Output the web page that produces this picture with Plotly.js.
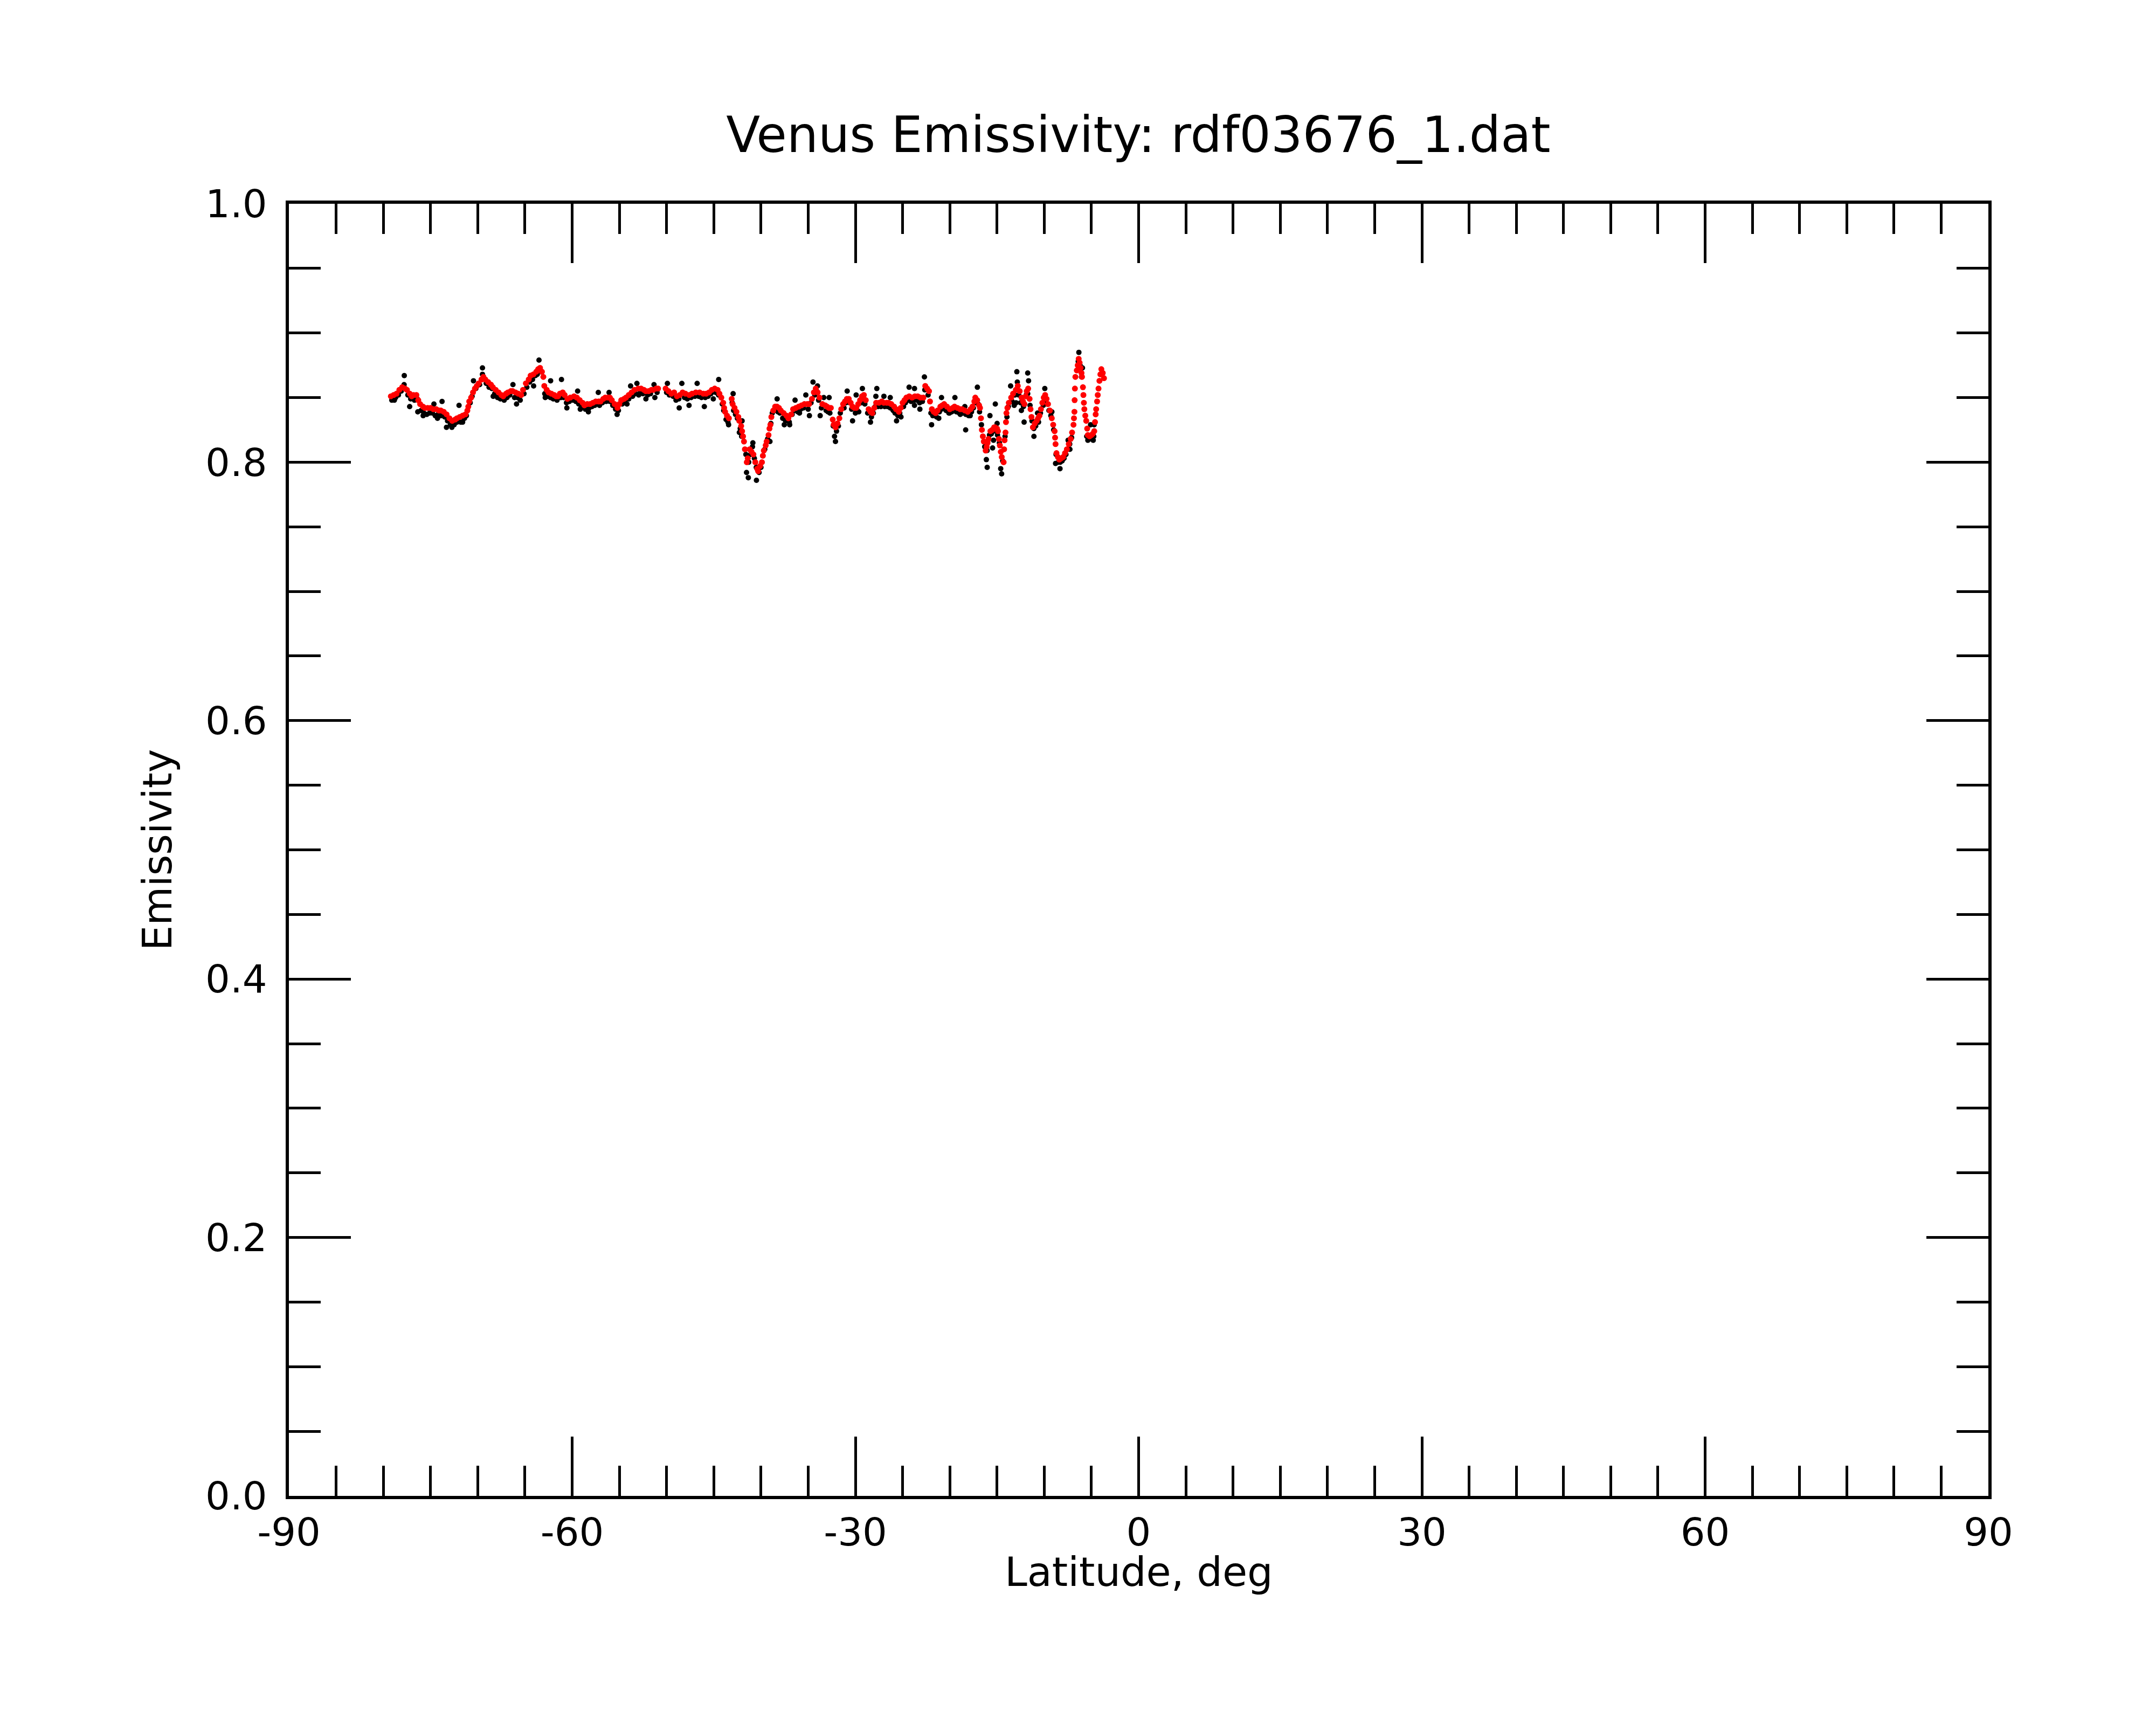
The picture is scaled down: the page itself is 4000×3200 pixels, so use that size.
<!DOCTYPE html>
<html>
<head>
<meta charset="utf-8">
<title>Venus Emissivity</title>
<script src="https://cdn.plot.ly/plotly-3.0.1.min.js"></script>
<style>
  html, body { margin: 0; padding: 0; background: #fff; }
  #chart { width: 4000px; height: 3200px; }
</style>
</head>
<body>
<div id="chart"></div>
<script>
/* -------------------- Data -------------------- */

// smoothed emissivity (red)
const latSmooth = [
  -79.2, -78.9, -78.6, -78.3, -78.0, -77.7, -77.5, -77.2, -77.0, -76.8,
  -76.5, -76.3, -76.1, -75.8, -75.6, -75.3, -75.0, -74.7, -74.4, -74.1,
  -73.9, -73.6, -73.3, -73.0, -72.7, -72.4, -72.2, -71.9, -71.6, -71.3,
  -71.1, -71.0, -70.9, -70.7, -70.5, -70.3, -70.1, -69.9, -69.6, -69.4,
  -69.2, -68.9, -68.6, -68.4, -68.1, -67.8, -67.5, -67.3, -67.0, -66.8,
  -66.5, -66.3, -66.0, -65.7, -65.4, -65.2, -64.9, -64.6, -64.4, -64.1,
  -63.8, -63.6, -63.4, -63.2, -63.05, -62.95, -62.7, -62.5, -62.2, -61.9,
  -61.7, -61.5, -61.3, -61.0, -60.8, -60.5, -60.2, -59.8, -59.5, -59.2,
  -58.9, -58.7, -58.4, -58.1, -57.8, -57.5, -57.2, -57.0, -56.7, -56.5,
  -56.2, -56.0, -55.8, -55.5, -55.2, -55.0, -54.8, -54.5, -54.3, -54.0,
  -53.7, -53.4, -53.0, -52.7, -52.4, -52.2, -51.9, -51.6, -51.4, -51.1,
  -50.9, -50.1, -49.8, -49.5, -49.2, -48.9, -48.6, -48.3, -48.0, -47.6,
  -47.3, -46.9, -46.5, -46.1, -45.8, -45.5, -45.2, -44.9, -44.6, -44.4,
  -44.2, -44.0, -43.9, -43.8, -43.6, -43.4, -43.1, -43.0, -42.8, -42.6,
  -42.4, -42.3, -42.1, -42.0, -41.9, -41.8, -41.7, -41.5, -41.4, -41.2,
  -41.0, -40.8, -40.6, -40.4, -40.3, -40.1, -39.9, -39.8, -39.7, -39.5,
  -39.4, -39.2, -39.1, -39.0, -38.9, -38.7, -38.5, -38.3, -38.1, -37.9,
  -37.6, -37.3, -37.1, -36.8, -36.6, -36.3, -36.0, -35.7, -35.4, -35.1,
  -34.9, -34.6, -34.4, -34.2, -34.0, -33.8, -33.5, -33.2, -33.0, -32.8,
  -32.6, -32.4, -32.3, -32.1, -31.9, -31.7, -31.5, -31.3, -31.1, -30.9,
  -30.7, -30.5, -30.3, -30.1, -29.9, -29.7, -29.5, -29.3, -29.1, -28.9,
  -28.6, -28.4, -28.2, -28.0, -27.8, -27.5, -27.2, -27.0, -26.7, -26.5,
  -26.2, -25.9, -25.7, -25.4, -25.2, -25.0, -24.8, -24.6, -24.3, -24.0,
  -23.7, -23.4, -23.1, -22.8, -22.6, -22.4, -22.2, -22.1, -21.9, -21.7,
  -21.5, -21.3, -21.0, -20.8, -20.6, -20.3, -20.0, -19.7, -19.5, -19.2,
  -18.9, -18.7, -18.4, -18.1, -17.8, -17.6, -17.4, -17.3, -17.1, -16.9,
  -16.8, -16.7, -16.6, -16.5, -16.4, -16.2, -16.1, -16.0, -15.9, -15.7,
  -15.5, -15.3, -15.2, -15.0, -14.9, -14.8, -14.7, -14.6, -14.5, -14.3,
  -14.25, -14.2, -14.1, -14.05, -14.0, -13.9, -13.75, -13.5, -13.3, -13.0,
  -12.8, -12.6, -12.4, -12.25, -12.1, -11.95, -11.85, -11.7, -11.55, -11.45,
  -11.35, -11.2, -11.0, -10.8, -10.65, -10.5, -10.35, -10.2, -10.05, -9.9,
  -9.75, -9.6, -9.4, -9.2, -9.05, -8.9, -8.85, -8.8, -8.7, -8.55,
  -8.4, -8.2, -8.0, -7.8, -7.6, -7.4, -7.2, -7.05, -6.9, -6.85,
  -6.8, -6.78, -6.75, -6.7, -6.55, -6.45, -6.35, -6.25, -6.15, -6.05,
  -6.0, -5.9, -5.85, -5.8, -5.75, -5.65, -5.55, -5.45, -5.38, -5.2,
  -5.0, -4.85, -4.7, -4.62, -4.55, -4.5, -4.4, -4.33, -4.25, -4.15,
  -4.05, -3.95, -3.8, -3.67
];
const emisSmooth = [
  0.851, 0.852, 0.853, 0.856, 0.858, 0.857, 0.856, 0.853, 0.851, 0.852,
  0.852, 0.848, 0.845, 0.843, 0.842, 0.842, 0.842, 0.841, 0.841, 0.840,
  0.840, 0.839, 0.837, 0.834, 0.832, 0.833, 0.834, 0.835, 0.836, 0.837,
  0.840, 0.843, 0.847, 0.850, 0.854, 0.857, 0.859, 0.861, 0.864, 0.866,
  0.864, 0.862, 0.860, 0.858, 0.856, 0.854, 0.852, 0.851, 0.853, 0.854,
  0.855, 0.855, 0.854, 0.853, 0.852, 0.856, 0.861, 0.864, 0.867, 0.868,
  0.870, 0.872, 0.873, 0.870, 0.866, 0.859, 0.856, 0.854, 0.853, 0.852,
  0.851, 0.851, 0.853, 0.854, 0.852, 0.849, 0.850, 0.851, 0.850, 0.848,
  0.846, 0.844, 0.845, 0.845, 0.846, 0.847, 0.847, 0.847, 0.849, 0.850,
  0.850, 0.850, 0.848, 0.845, 0.842, 0.845, 0.848, 0.849, 0.850, 0.852,
  0.854, 0.856, 0.857, 0.857, 0.856, 0.855, 0.855, 0.856, 0.856, 0.857,
  0.857, 0.857, 0.855, 0.853, 0.854, 0.851, 0.852, 0.854, 0.853, 0.852,
  0.853, 0.854, 0.854, 0.853, 0.853, 0.854, 0.856, 0.857, 0.856, 0.853,
  0.850, 0.846, 0.842, 0.839, 0.836, 0.834, 0.849, 0.845, 0.842, 0.839,
  0.835, 0.832, 0.828, 0.824, 0.820, 0.816, 0.810, 0.800, 0.803, 0.810,
  0.808, 0.806, 0.800, 0.795, 0.793, 0.797, 0.800, 0.805, 0.809, 0.813,
  0.816, 0.821, 0.826, 0.829, 0.835, 0.840, 0.843, 0.843, 0.842, 0.840,
  0.838, 0.836, 0.834, 0.837, 0.841, 0.842, 0.843, 0.844, 0.845, 0.845,
  0.845, 0.849, 0.854, 0.857, 0.854, 0.850, 0.845, 0.844, 0.843, 0.842,
  0.842, 0.833, 0.829, 0.827, 0.830, 0.834, 0.841, 0.845, 0.847, 0.849,
  0.849, 0.846, 0.843, 0.842, 0.842, 0.845, 0.848, 0.851, 0.852, 0.848,
  0.841, 0.839, 0.838, 0.842, 0.846, 0.846, 0.847, 0.846, 0.846, 0.846,
  0.845, 0.843, 0.841, 0.839, 0.842, 0.846, 0.848, 0.850, 0.851, 0.850,
  0.851, 0.851, 0.850, 0.850, 0.859, 0.857, 0.855, 0.847, 0.841, 0.839,
  0.838, 0.840, 0.843, 0.844, 0.845, 0.843, 0.841, 0.842, 0.843, 0.842,
  0.841, 0.841, 0.840, 0.839, 0.841, 0.843, 0.847, 0.850, 0.848, 0.844,
  0.842, 0.834, 0.825, 0.820, 0.816, 0.809, 0.812, 0.815, 0.818, 0.824,
  0.825, 0.827, 0.827, 0.826, 0.824, 0.818, 0.813, 0.808, 0.804, 0.800,
  0.810, 0.817, 0.823, 0.831, 0.838, 0.842, 0.846, 0.850, 0.853, 0.856,
  0.859, 0.855, 0.850, 0.847, 0.845, 0.851, 0.855, 0.857, 0.849, 0.841,
  0.835, 0.827, 0.830, 0.832, 0.834, 0.836, 0.841, 0.846, 0.850, 0.852,
  0.849, 0.845, 0.840, 0.834, 0.829, 0.824, 0.819, 0.814, 0.807, 0.804,
  0.802, 0.803, 0.804, 0.807, 0.810, 0.814, 0.818, 0.823, 0.829, 0.834,
  0.839, 0.848, 0.857, 0.866, 0.871, 0.875, 0.880, 0.877, 0.873, 0.869,
  0.866, 0.858, 0.852, 0.846, 0.841, 0.836, 0.832, 0.826, 0.821, 0.820,
  0.821, 0.822, 0.824, 0.831, 0.837, 0.841, 0.847, 0.852, 0.857, 0.863,
  0.868, 0.872, 0.869, 0.865
];

// raw emissivity samples (black)
const latRaw = [
  -79.1, -78.7, -78.4, -78.1, -77.8, -77.4, -77.1, -76.7, -76.4, -76.0,
  -75.7, -75.4, -75.1, -74.8, -74.5, -74.2, -73.9, -73.5, -73.2, -72.9,
  -72.5, -72.2, -71.8, -71.4, -71.2, -70.8, -70.6, -70.2, -69.8, -69.5,
  -69.1, -68.8, -68.5, -68.2, -67.9, -67.6, -67.2, -66.9, -66.6, -66.1,
  -65.8, -65.5, -65.1, -64.8, -64.5, -64.2, -63.9, -63.7, -63.3, -62.9,
  -62.6, -62.3, -62.0, -61.6, -61.2, -60.9, -60.6, -60.3, -59.9, -59.6,
  -59.3, -59.0, -58.6, -58.2, -57.9, -57.6, -57.1, -56.8, -56.4, -56.0,
  -55.7, -55.4, -55.1, -54.7, -54.4, -54.0, -53.6, -53.3, -52.8, -52.5,
  -52.0, -51.7, -51.0, -50.0, -49.7, -49.3, -49.0, -48.7, -48.1, -47.8,
  -47.4, -47.0, -46.6, -46.3, -45.9, -45.6, -45.3, -44.8, -44.5, -44.1,
  -43.95, -43.7, -43.5, -43.05, -42.9, -42.7, -42.5, -42.2, -42.05, -41.6,
  -41.3, -41.1, -40.9, -40.7, -40.5, -40.2, -40.0, -39.6, -39.3, -38.95,
  -38.8, -38.6, -38.2, -38.0, -37.7, -37.4, -37.0, -36.7, -36.4, -36.1,
  -35.8, -35.5, -35.0, -34.7, -34.3, -34.1, -33.9, -33.6, -33.1, -32.9,
  -32.7, -32.35, -32.0, -31.8, -31.6, -31.2, -31.0, -30.6, -30.4, -30.0,
  -29.8, -29.4, -29.2, -29.0, -28.7, -28.3, -28.1, -27.9, -27.6, -27.3,
  -26.9, -26.6, -26.3, -26.0, -25.8, -25.5, -25.3, -24.9, -24.7, -24.4,
  -24.1, -23.8, -23.5, -23.2, -22.9, -22.65, -22.3, -22.0, -21.8, -21.4,
  -21.1, -20.9, -20.7, -20.4, -20.1, -19.8, -19.6, -19.3, -19.0, -18.6,
  -18.3, -18.0, -17.7, -17.5, -17.2, -17.0, -16.85, -16.65, -16.3, -16.05,
  -15.8, -15.6, -15.4, -15.1, -14.95, -14.75, -14.4, -14.15, -13.95, -13.8,
  -13.4, -13.1, -12.85, -12.7, -12.5, -12.2, -11.9, -11.75, -11.5, -11.3,
  -11.1, -10.9, -10.6, -10.4, -10.1, -9.95, -9.7, -9.5, -9.3, -9.0,
  -8.75, -8.5, -8.3, -8.1, -7.9, -7.7, -7.5, -7.3, -7.1, -6.4,
  -6.2, -6.05, -5.5, -5.3, -5.1, -4.9, -4.75,
  // scattered samples away from the band
  -77.78, -71.98, -73.78, -73.31, -72.74, -71.6, -75.78, -74.26, -77.21, -78.83,
  -69.5, -68.36, -65.89, -66.27, -70.45, -74.64, -76.35,
  -63.51, -61.13, -62.28, -64.08, -62.85, -60.56, -59.42, -59.14, -58.28, -57.23,
  -56.09, -55.24, -54.19, -53.81, -53.14, -52.19, -51.33, -51.24, -49.91, -52.95,
  -48.66, -48.38, -47.62, -46.76, -46.0, -44.48, -45.05, -43.43, -42.95, -42.29,
  -42.0, -40.86, -41.53, -41.34, -40.48, -39.05, -38.29, -37.53, -36.96, -36.39,
  -35.92, -35.25, -34.87, -34.49,
  -34.01, -33.73, -33.35, -32.78, -32.21, -32.11, -30.87, -30.30, -29.92, -29.26,
  -29.64, -28.40, -27.73, -27.83, -26.98, -26.31, -25.64, -25.17, -24.31, -23.74,
  -23.17, -23.74, -22.69, -21.93, -21.17, -20.88, -19.46, -20.03, -18.89,
  -18.32, -18.41, -17.84, -17.08, -16.04, -16.13, -15.75, -15.18, -15.37, -15.47,
  -14.61, -14.51, -14.99, -13.56, -12.99, -12.90, -13.18, -12.13, -12.42, -11.75,
  -11.66, -11.09, -10.71, -9.94, -9.19, -8.33, -8.80, -7.28, -7.47, -6.33,
  -5.95, -5.09, -5.38, -4.81, -4.71
];
const emisRaw = [
  0.848, 0.850, 0.852, 0.855, 0.860, 0.852, 0.849, 0.848, 0.849, 0.840,
  0.838, 0.837, 0.838, 0.838, 0.836, 0.837, 0.836, 0.835, 0.832, 0.829,
  0.829, 0.831, 0.831, 0.834, 0.836, 0.846, 0.851, 0.857, 0.860, 0.868,
  0.861, 0.858, 0.857, 0.853, 0.850, 0.849, 0.848, 0.850, 0.852, 0.850,
  0.850, 0.848, 0.853, 0.858, 0.862, 0.864, 0.867, 0.868, 0.870, 0.853,
  0.851, 0.850, 0.849, 0.848, 0.850, 0.850, 0.846, 0.847, 0.848, 0.847,
  0.845, 0.843, 0.841, 0.842, 0.843, 0.844, 0.844, 0.846, 0.847, 0.847,
  0.844, 0.841, 0.840, 0.845, 0.847, 0.849, 0.851, 0.853, 0.854, 0.853,
  0.852, 0.853, 0.854, 0.854, 0.852, 0.851, 0.848, 0.849, 0.850, 0.849,
  0.850, 0.851, 0.851, 0.850, 0.850, 0.851, 0.853, 0.854, 0.852, 0.845,
  0.840, 0.833, 0.831, 0.846, 0.840, 0.837, 0.834, 0.826, 0.820, 0.806,
  0.800, 0.806, 0.812, 0.803, 0.796, 0.792, 0.796, 0.810, 0.818, 0.830,
  0.838, 0.840, 0.839, 0.838, 0.834, 0.832, 0.831, 0.837, 0.840, 0.839,
  0.841, 0.842, 0.841, 0.846, 0.852, 0.855, 0.848, 0.842, 0.840, 0.839,
  0.838, 0.828, 0.824, 0.828, 0.838, 0.842, 0.846, 0.846, 0.841, 0.838,
  0.840, 0.846, 0.849, 0.845, 0.838, 0.835, 0.838, 0.843, 0.843, 0.843,
  0.843, 0.843, 0.842, 0.840, 0.838, 0.836, 0.838, 0.843, 0.846, 0.848,
  0.847, 0.848, 0.848, 0.846, 0.847, 0.856, 0.852, 0.838, 0.836, 0.835,
  0.839, 0.841, 0.842, 0.840, 0.838, 0.839, 0.840, 0.839, 0.838, 0.838,
  0.837, 0.836, 0.839, 0.842, 0.846, 0.845, 0.839, 0.829, 0.812, 0.809,
  0.821, 0.822, 0.824, 0.824, 0.821, 0.815, 0.801, 0.820, 0.835, 0.843,
  0.847, 0.852, 0.862, 0.852, 0.846, 0.843, 0.852, 0.853, 0.844, 0.832,
  0.826, 0.828, 0.831, 0.838, 0.844, 0.848, 0.845, 0.840, 0.836, 0.825,
  0.806, 0.800, 0.800, 0.801, 0.803, 0.806, 0.810, 0.814, 0.819, 0.878,
  0.875, 0.866, 0.820, 0.818, 0.818, 0.818, 0.820,
  // scattered samples away from the band
  0.867, 0.844, 0.847, 0.827, 0.827, 0.831, 0.836, 0.834, 0.843, 0.848,
  0.873, 0.851, 0.845, 0.860, 0.863, 0.845, 0.839,
  0.879, 0.864, 0.863, 0.859, 0.850, 0.842, 0.855, 0.841, 0.839, 0.854,
  0.854, 0.837, 0.845, 0.859, 0.861, 0.849, 0.860, 0.850, 0.861, 0.852,
  0.842, 0.861, 0.844, 0.861, 0.843, 0.864, 0.849, 0.829, 0.853, 0.823,
  0.832, 0.815, 0.792, 0.788, 0.786, 0.816, 0.849, 0.829, 0.829, 0.848,
  0.838, 0.852, 0.836, 0.862,
  0.859, 0.836, 0.850, 0.850, 0.820, 0.816, 0.855, 0.832, 0.852, 0.857,
  0.839, 0.831, 0.857, 0.851, 0.851, 0.850, 0.832, 0.835, 0.858, 0.857,
  0.841, 0.844, 0.866, 0.829, 0.834, 0.850, 0.850, 0.838, 0.837,
  0.825, 0.843, 0.836, 0.858, 0.796, 0.802, 0.836, 0.845, 0.817, 0.811,
  0.795, 0.791, 0.830, 0.859, 0.846, 0.870, 0.844, 0.831, 0.840, 0.869,
  0.863, 0.820, 0.838, 0.857, 0.839, 0.795, 0.799, 0.810, 0.817, 0.885,
  0.873, 0.829, 0.817, 0.817, 0.829
];

// axis ticks, hyphen minus as in the original
const xTickVals = [-90, -60, -30, 0, 30, 60, 90];
const xTickText = ["-90", "-60", "-30", "0", "30", "60", "90"];
const yTickVals = [0, 0.2, 0.4, 0.6, 0.8, 1.0];
const yTickText = ["0.0", "0.2", "0.4", "0.6", "0.8", "1.0"];

/* -------------------- Plot -------------------- */

const FONT = "DejaVu Sans, Liberation Sans, sans-serif";

const traces = [
  {
    x: latRaw,
    y: emisRaw,
    type: "scatter",
    mode: "markers",
    marker: { color: "#000000", size: 10 },
    hoverinfo: "skip",
  },
  {
    x: latSmooth,
    y: emisSmooth,
    type: "scatter",
    mode: "markers",
    marker: { color: "#ff0000", size: 11 },
    hoverinfo: "skip",
  },
];

const axisCommon = {
  showgrid: false,
  zeroline: false,
  showline: true,
  linecolor: "#000",
  linewidth: 6,
  mirror: "ticks",
  ticks: "inside",
  tickcolor: "#000",
  tickwidth: 5,
  tickmode: "array",
  tickfont: { family: FONT, size: 72, color: "#000" },
  automargin: false,
};

const layout = {
  width: 4000,
  height: 3200,
  margin: { l: 536, r: 311, t: 378, b: 425 },
  paper_bgcolor: "#fff",
  plot_bgcolor: "#fff",
  showlegend: false,
  font: { family: FONT, color: "#000" },
  title: {
    text: "Venus Emissivity: rdf03676_1.dat",
    font: { family: FONT, size: 92, color: "#000" },
    x: 0.528,
    xanchor: "center",
    y: 0.922,
    yanchor: "middle",
    yref: "container",
  },
  xaxis: Object.assign({}, axisCommon, {
    range: [-90, 90],
    tickvals: xTickVals,
    ticktext: xTickText,
    ticklen: 110,
    minor: { tickmode: "linear", tick0: -90, dtick: 5, ticks: "inside", ticklen: 56, tickwidth: 5, tickcolor: "#000", showgrid: false },
  }),
  yaxis: Object.assign({}, axisCommon, {
    range: [0, 1],
    tickvals: yTickVals,
    ticktext: yTickText,
    ticklen: 115,
    ticklabelstandoff: 20,
    minor: { tickmode: "linear", tick0: 0, dtick: 0.05, ticks: "inside", ticklen: 59, tickwidth: 5, tickcolor: "#000", showgrid: false },
    title: { text: "Emissivity", font: { family: FONT, size: 74, color: "#000" }, standoff: 40 },
  }),
  // x axis label sits a little closer to the tick labels than plotly's title allows
  annotations: [
    {
      text: "Latitude, deg",
      xref: "paper",
      yref: "paper",
      x: 0.5,
      y: -0.059,
      xanchor: "center",
      yanchor: "middle",
      showarrow: false,
      font: { family: FONT, size: 75, color: "#000" },
    },
  ],
};

Plotly.newPlot("chart", traces, layout, { staticPlot: true, displayModeBar: false });
</script>
</body>
</html>
